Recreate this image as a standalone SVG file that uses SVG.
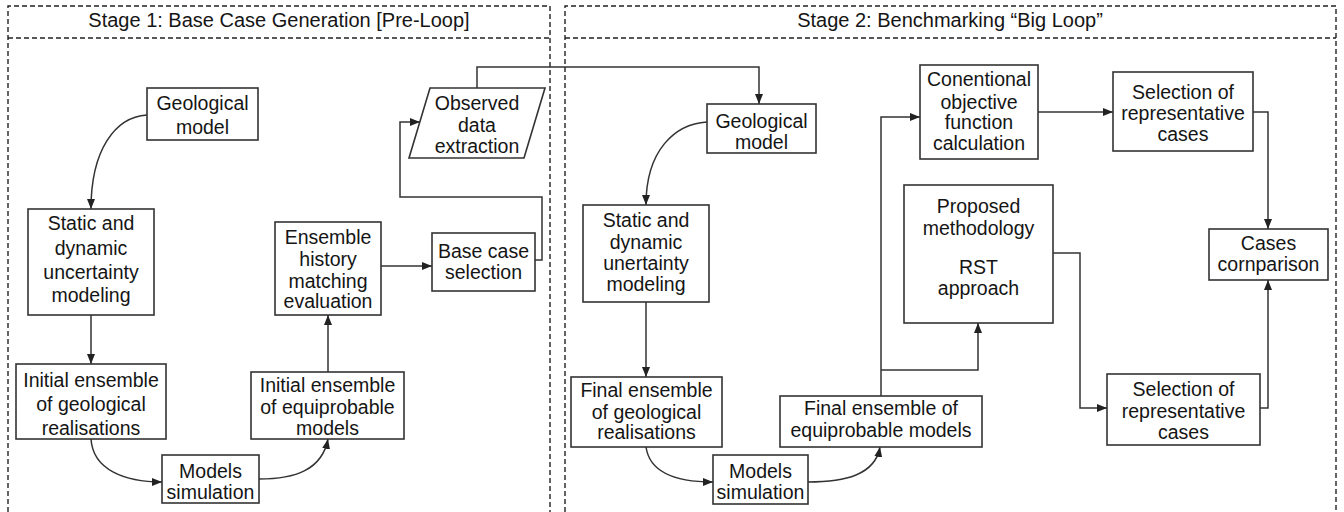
<svg xmlns="http://www.w3.org/2000/svg" width="1344" height="512" viewBox="0 0 1344 512">
<defs>
<marker id="ah" markerWidth="10" markerHeight="8" refX="10" refY="4" orient="auto" markerUnits="userSpaceOnUse">
<path d="M0,0 L10,4 L0,8 Z" fill="#222"/>
</marker>
<style>
.frame{fill:none;stroke:#222;stroke-width:1.4;stroke-dasharray:5,3}
.box{fill:#fff;stroke:#333;stroke-width:1.6}
.t{font-family:"Liberation Sans",Arial,sans-serif;font-size:19.5px;fill:#151515;text-anchor:middle}
.h{font-family:"Liberation Sans",Arial,sans-serif;font-size:20px;fill:#151515;text-anchor:middle}
.c{fill:none;stroke:#333;stroke-width:1.5}
.ca{fill:none;stroke:#333;stroke-width:1.5;marker-end:url(#ah)}
</style>
</defs>
<rect width="1344" height="512" fill="#fff"/>
<g id="stage1">
<path class="frame" d="M8,520 V6 H550 V520 M8,38 H550"/>
<text class="h" x="279" y="27">Stage 1: Base Case Generation [Pre-Loop]</text>
</g>
<g id="stage2">
<path class="frame" d="M565,520 V6 H1336 V520 M565,38 H1336"/>
<text class="h" x="950" y="27">Stage 2: Benchmarking “Big Loop”</text>
</g>
<g id="connectors">
<path class="ca" d="M147,115 C115,117 91,150 91,209"/>
<path class="ca" d="M91,315 V364"/>
<path class="ca" d="M91,439 C93,470 125,482 162,482"/>
<path class="ca" d="M259,479 C295,479 322,470 328,439"/>
<path class="ca" d="M328,372 V315"/>
<path class="ca" d="M381,266 H432"/>
<path class="ca" d="M535,260 H542 V197 H400 V122 H420"/>
<path class="ca" d="M477,88 V67 H759 V104"/>
<path class="ca" d="M707,122 C675,124 646,150 646,205"/>
<path class="ca" d="M646,302 V377"/>
<path class="ca" d="M646,447 C650,475 680,482 713,482"/>
<path class="ca" d="M808,482 C845,482 875,475 880,447"/>
<path class="ca" d="M881,396 V117 H920"/>
<path class="ca" d="M881,370 H978 V323"/>
<path class="ca" d="M1038,112 H1113"/>
<path class="ca" d="M1253,112 H1268 V229"/>
<path class="ca" d="M1053,253 H1080 V408 H1107"/>
<path class="ca" d="M1260,408 H1268 V280"/>
</g>
<g id="geo1"><rect class="box" x="147" y="88" width="111" height="52"/><text class="t" x="202.5" y="110">Geological</text><text class="t" x="202.5" y="134">model</text></g>
<g id="static1"><rect class="box" x="28" y="209" width="126" height="106"/><text class="t" x="91" y="230">Static and</text><text class="t" x="91" y="255">dynamic</text><text class="t" x="91" y="279">uncertainty</text><text class="t" x="91" y="302">modeling</text></g>
<g id="initgeo"><rect class="box" x="16" y="364" width="150" height="75"/><text class="t" x="91" y="387">Initial ensemble</text><text class="t" x="91" y="411">of geological</text><text class="t" x="91" y="435">realisations</text></g>
<g id="sim1"><rect class="box" x="162" y="455" width="97" height="48"/><text class="t" x="210.5" y="478">Models</text><text class="t" x="210.5" y="499">simulation</text></g>
<g id="initeq"><rect class="box" x="251" y="372" width="153" height="67"/><text class="t" x="327.5" y="392">Initial ensemble</text><text class="t" x="327.5" y="414">of equiprobable</text><text class="t" x="327.5" y="435">models</text></g>
<g id="ensemble"><rect class="box" x="275" y="222" width="106" height="93"/><text class="t" x="328" y="244">Ensemble</text><text class="t" x="328" y="266">history</text><text class="t" x="328" y="288">matching</text><text class="t" x="328" y="308">evaluation</text></g>
<g id="basecase"><rect class="box" x="432" y="233" width="103" height="58"/><text class="t" x="483.5" y="258">Base case</text><text class="t" x="483.5" y="279">selection</text></g>
<g id="observed"><polygon class="box" points="430,88 545,88 524,158 409,158"/><text class="t" x="477" y="110">Observed</text><text class="t" x="477" y="132">data</text><text class="t" x="477" y="153">extraction</text></g>
<g id="geo2"><rect class="box" x="707" y="104" width="109" height="49"/><text class="t" x="761.5" y="128">Geological</text><text class="t" x="761.5" y="149">model</text></g>
<g id="static2"><rect class="box" x="583" y="205" width="126" height="97"/><text class="t" x="646" y="227">Static and</text><text class="t" x="646" y="249">dynamic</text><text class="t" x="646" y="270">unertainty</text><text class="t" x="646" y="291">modeling</text></g>
<g id="finalgeo"><rect class="box" x="571" y="377" width="151" height="70"/><text class="t" x="646.5" y="397">Final ensemble</text><text class="t" x="646.5" y="419">of geological</text><text class="t" x="646.5" y="439">realisations</text></g>
<g id="sim2"><rect class="box" x="713" y="455" width="95" height="49"/><text class="t" x="760.5" y="478">Models</text><text class="t" x="760.5" y="499">simulation</text></g>
<g id="finaleq"><rect class="box" x="780" y="396" width="202" height="51"/><text class="t" x="881" y="415">Final ensemble of</text><text class="t" x="881" y="437">equiprobable models</text></g>
<g id="conventional"><rect class="box" x="920" y="65" width="118" height="94"/><text class="t" x="979" y="86">Conentional</text><text class="t" x="979" y="109">objective</text><text class="t" x="979" y="129">function</text><text class="t" x="979" y="150">calculation</text></g>
<g id="sel1"><rect class="box" x="1113" y="72" width="140" height="79"/><text class="t" x="1183" y="99">Selection of</text><text class="t" x="1183" y="120">representative</text><text class="t" x="1183" y="141">cases</text></g>
<g id="cases"><rect class="box" x="1209" y="229" width="119" height="51"/><text class="t" x="1268.5" y="250">Cases</text><text class="t" x="1268.5" y="271">cornparison</text></g>
<g id="proposed"><rect class="box" x="904" y="185" width="149" height="138"/><text class="t" x="978.5" y="213">Proposed</text><text class="t" x="978.5" y="235">methodology</text><text class="t" x="978.5" y="274">RST</text><text class="t" x="978.5" y="295">approach</text></g>
<g id="sel2"><rect class="box" x="1107" y="374" width="153" height="71"/><text class="t" x="1183.5" y="396">Selection of</text><text class="t" x="1183.5" y="418">representative</text><text class="t" x="1183.5" y="439">cases</text></g>
</svg>
